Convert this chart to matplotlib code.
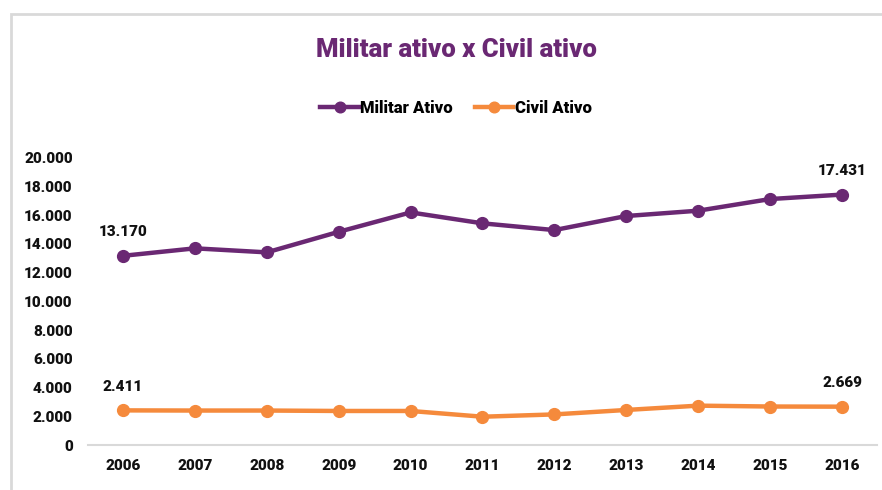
import matplotlib.pyplot as plt
from matplotlib.patches import Rectangle
from matplotlib.ticker import FuncFormatter

# Data
anos = ['2006', '2007', '2008', '2009', '2010', '2011', '2012', '2013', '2014', '2015', '2016']
militar_ativo = [13170, 13690, 13410, 14840, 16190, 15430, 14960, 15940, 16310, 17120, 17431]
civil_ativo = [2411, 2400, 2400, 2370, 2370, 1970, 2130, 2440, 2740, 2680, 2669]
y_ticks = list(range(0, 20001, 2000))

ROXO = '#6a2873'
LARANJA = '#f58a3c'
FONTE = ['Roboto', 'DejaVu Sans']

plt.rcParams['font.family'] = FONTE
plt.rcParams['font.weight'] = 'bold'


def milhar(v, pos=None):
    return f'{int(v):,}'.replace(',', '.')


fig = plt.figure(figsize=(8.82, 4.9), dpi=100)
ax = fig.add_axes([0.0998, 0.0918, 0.8945, 0.5864])

x = list(range(len(anos)))
l1, = ax.plot(x, militar_ativo, color=ROXO, lw=3.2, marker='o', ms=8.5, label='Militar Ativo')
l2, = ax.plot(x, civil_ativo, color=LARANJA, lw=3.2, marker='o', ms=8.5, label='Civil Ativo')

# data labels on first and last points
for serie in (militar_ativo, civil_ativo):
    for i in (0, len(serie) - 1):
        ax.annotate(milhar(serie[i]), (x[i], serie[i]), xytext=(0, 12),
                    textcoords='offset points', ha='center', va='bottom',
                    fontsize=11, fontweight='heavy', color='#111111')

ax.set_xlim(-0.487, len(anos) - 1 + 0.487)
ax.set_ylim(0, 20000)
ax.set_xticks(x)
ax.set_xticklabels(anos)
ax.set_yticks(y_ticks)
ax.yaxis.set_major_formatter(FuncFormatter(milhar))
ax.tick_params(axis='both', length=0, labelsize=11, colors='#111111')
ax.tick_params(axis='x', pad=10)
ax.tick_params(axis='y', pad=11)
for lab in ax.get_xticklabels() + ax.get_yticklabels():
    lab.set_fontweight('heavy')

for s in ('top', 'right', 'left'):
    ax.spines[s].set_visible(False)
ax.spines['bottom'].set_color('#d9d9d9')
ax.spines['bottom'].set_linewidth(1.5)

fig.text(0.517, 0.898, 'Militar ativo x Civil ativo', ha='center', va='center',
         fontsize=18.5, fontweight='heavy', color=ROXO)

leg = fig.legend(handles=[l1, l2], loc='center', bbox_to_anchor=(0.517, 0.78), ncol=2,
                 frameon=False, fontsize=12, handlelength=2.3, handletextpad=0.1,
                 columnspacing=1.3, markerscale=0.9)
for t in leg.get_texts():
    t.set_fontweight('heavy')

# light grey frame around the chart (only top and left visible)
fig.patches.append(Rectangle((0.0125, -0.1), 1.2, 1.071, transform=fig.transFigure,
                             fill=False, edgecolor='#d9d9d9', lw=2))

fig.savefig('out.png', dpi=100, facecolor='white')
